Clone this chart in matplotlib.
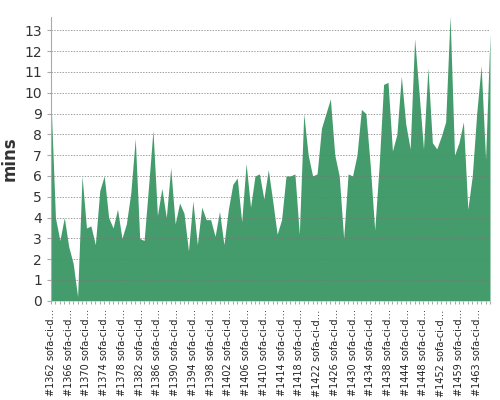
import matplotlib
matplotlib.use('Agg')
import matplotlib.pyplot as plt

builds = list(range(1362, 1442)) + [1444, 1445, 1446, 1447, 1448, 1449, 1450, 1451,
          1452, 1453, 1454, 1456] + list(range(1459, 1467))
mins = [9.6, 4.0, 2.9, 4.0, 2.6, 1.8, 0.2, 6.0, 3.5, 3.6, 2.7, 5.3, 6.0, 4.0, 3.5, 4.4,
        3.0, 3.7, 5.2, 7.8, 3.0, 2.9, 5.5, 8.2, 4.1, 5.4, 4.0, 6.4, 3.7, 4.7, 4.2, 2.4,
        4.8, 2.7, 4.5, 3.9, 3.9, 3.1, 4.3, 2.7, 4.4, 5.6, 5.9, 3.8, 6.6,
        4.5, 6.0, 6.1, 4.9, 6.3, 4.8, 3.2, 3.9, 6.0, 6.0, 6.1, 3.2, 9.0, 7.0, 6.0, 6.1,
        8.3, 9.0, 9.7, 7.0, 6.0, 3.0, 6.1, 6.0, 7.0, 9.2, 9.0, 6.5, 3.4, 6.5, 10.4, 10.5,
        7.2, 8.0, 10.8, 8.5, 7.3, 12.6, 10.0, 7.3, 11.2, 7.6, 7.3, 7.9, 8.6, 13.7, 7.0,
        7.6, 8.6, 4.4, 6.0, 9.0, 11.3, 6.8, 12.8]
labels = ['#%d sofa-ci-d…' % b for b in builds]

fig = plt.figure(figsize=(5, 4), dpi=100)
ax = fig.add_axes([0.102, 0.248, 0.878, 0.71])
x = list(range(len(mins)))
ax.fill_between(x, mins, 0, color='#449c6c', linewidth=0)
ax.set_xlim(0, len(mins) - 1)
ax.set_ylim(0, 13.65)
ax.set_yticks(range(0, 14))
ax.yaxis.grid(True, linestyle=(0, (2, 2)), color='#777777', linewidth=0.5)
ax.set_axisbelow(False)
ax.set_xticks(x)
ax.set_xticklabels([l if i % 4 == 0 else '' for i, l in enumerate(labels)],
                   rotation=90, fontsize=7, color='#222222')
ax.tick_params(axis='x', length=2, color='#aaaaaa', pad=4)
ax.tick_params(axis='y', length=3, color='#aaaaaa', labelsize=10, labelcolor='#333333')
for s in ['top', 'right', 'bottom']:
    ax.spines[s].set_visible(False)
ax.spines['left'].set_color('#aaaaaa')
ax.set_ylabel('mins', fontsize=12, fontweight='bold', color='#333333')
fig.savefig('out.png')
